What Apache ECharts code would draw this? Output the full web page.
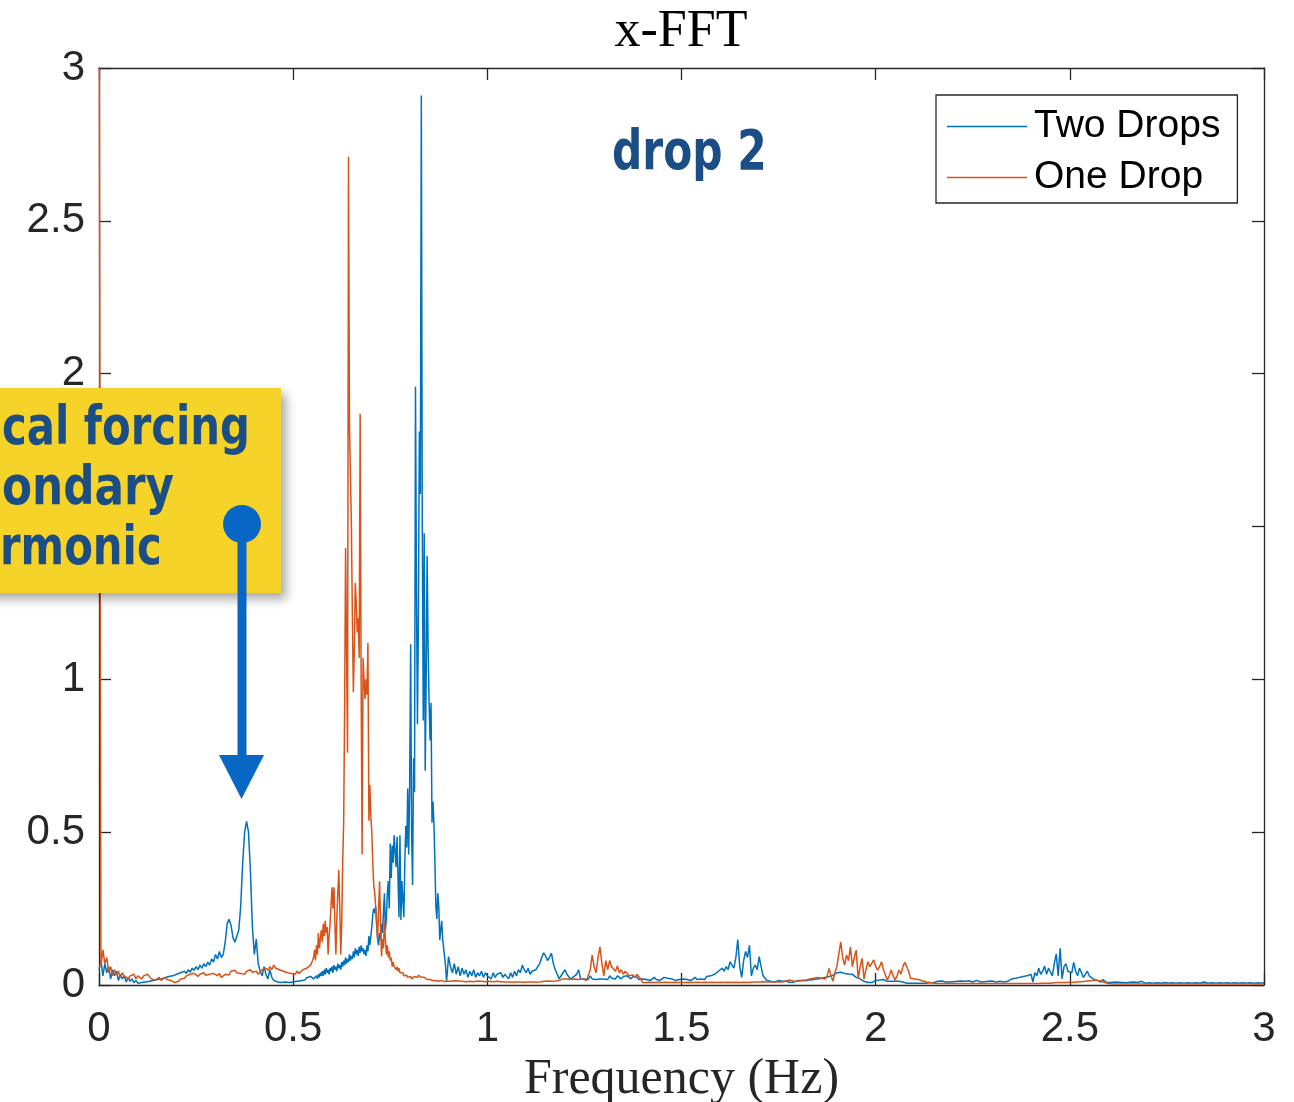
<!DOCTYPE html>
<html>
<head>
<meta charset="utf-8">
<title>x-FFT</title>
<script src="https://cdn.jsdelivr.net/npm/echarts@6/dist/echarts.min.js"></script>
<style>
  html, body { margin: 0; padding: 0; background: #ffffff; }
  #chart { width: 1294px; height: 1102px; }
</style>
</head>
<body>
<div id="chart"></div>
<script>
// Spectrum amplitudes are stored in three frequency bands per series:
//   low band  : 0.000 .. 0.550 Hz, step 0.005 Hz
//   peak band : 0.5525 .. 0.900 Hz, step 0.0025 Hz (finer around the resonances)
//   high band : 0.905 .. 3.000 Hz, step 0.005 Hz
const LOW_START = 0.0,    LOW_STEP = 0.005;
const PEAK_START = 0.5525, PEAK_STEP = 0.0025;
const HIGH_START = 0.905, HIGH_STEP = 0.005;

const seriesNames = ['Two Drops', 'One Drop'];
const xTicks = [0, 0.5, 1, 1.5, 2, 2.5, 3];
const yTicks = [0, 0.5, 1, 1.5, 2, 2.5, 3];

// ---- Two Drops ----
const twoDropsLow = [
  .05,.08,.03,.07,.04,.06,.02,.05,.03,.045,
  .015,.035,.02,.03,.01,.025,.012,.02,.008,.015,
  .006,.012,.008,.005,.01,.006,.012,.008,.015,.01,
  .018,.012,.02,.015,.024,.018,.028,.022,.03,.025,
  .035,.03,.04,.034,.045,.038,.05,.042,.055,.048,
  .06,.05,.065,.055,.07,.06,.075,.065,.085,.075,
  .1,.085,.11,.09,.1,.14,.2,.215,.195,.155,
  .14,.145,.18,.26,.4,.5,.535,.5,.37,.19,
  .1,.15,.07,.045,.03,.06,.035,.02,.05,.025,
  .015,.02,.01,.015,.008,.012,.01,.014,.008,.012,
  .01,.015,.012,.018,.014,.02,.016,.024,.02,.028,
  .025
];
const twoDropsPeak = [
  .02,.025,.015,.03,.02,.035,.025,.04,.03,.045,
  .03,.05,.035,.055,.04,.05,.035,.055,.045,.06,
  .04,.065,.05,.06,.045,.07,.055,.065,.05,.075,
  .06,.08,.065,.09,.07,.085,.075,.1,.08,.095,
  .085,.11,.09,.12,.1,.115,.095,.125,.105,.13,
  .11,.12,.1,.115,.095,.13,.11,.16,.13,.16,
  .19,.23,.25,.235,.257,.2,.15,.13,.17,.15,
  .2,.17,.24,.3,.18,.22,.3,.34,.25,.463,
  .35,.456,.4,.49,.496,.386,.485,.35,.222,.49,
  .213,.34,.28,.222,.4,.52,.45,.643,.427,.65,
  1.115,.5,.327,.742,.631,1.957,1.3,.853,1.2,1.811,
  1.606,2.91,1.5,.865,1.478,.701,1.0,1.404,1.1,.929,
  .8,.923,.531,.6,.526,.4,.256,.216,.3,.257,
  .147,.18,.21,.15,.12,.093,.06,.012,.05,.093
];
const twoDropsHigh = [
  .06,.04,.07,.035,.06,.03,.055,.035,.05,.025,
  .045,.03,.05,.025,.04,.03,.045,.025,.04,.03,
  .035,.02,.04,.025,.035,.03,.04,.025,.035,.03,
  .02,.04,.025,.045,.03,.05,.04,.065,.05,.04,
  .055,.035,.045,.04,.05,.045,.07,.09,.105,.095,
  .08,.09,.104,.07,.05,.035,.02,.025,.04,.05,
  .035,.03,.018,.025,.03,.035,.05,.02,.015,.02,
  .025,.018,.03,.02,.025,.018,.022,.02,.025,.02,
  .025,.018,.03,.022,.028,.02,.03,.025,.02,.028,
  .022,.03,.025,.02,.028,.022,.026,.018,.024,.02,
  .026,.018,.022,.015,.02,.025,.018,.022,.015,.02,
  .025,.03,.022,.028,.02,.018,.015,.02,.018,.015,
  .02,.025,.018,.022,.015,.02,.025,.018,.022,.02,
  .025,.018,.028,.022,.03,.025,.035,.03,.045,.04,
  .055,.045,.06,.05,.076,.065,.055,.09,.149,.06,
  .025,.08,.11,.09,.13,.03,.055,.065,.05,.093,
  .06,.03,.025,.015,.02,.012,.015,.01,.012,.015,
  .01,.012,.008,.012,.01,.008,.012,.01,.012,.015,
  .012,.015,.01,.014,.012,.016,.012,.018,.015,.02,
  .018,.022,.02,.025,.022,.028,.025,.032,.035,.04,
  .045,.042,.04,.038,.04,.036,.04,.035,.03,.025,
  .02,.02,.015,.012,.01,.008,.01,.008,.012,.015,
  .012,.016,.014,.018,.014,.012,.01,.012,.01,.012,
  .01,.012,.014,.01,.008,.006,.008,.006,.007,.006,
  .008,.006,.007,.006,.008,.006,.008,.007,.006,.008,
  .01,.012,.01,.013,.011,.01,.012,.01,.014,.011,
  .01,.012,.01,.013,.011,.012,.01,.014,.011,.01,
  .012,.015,.012,.01,.013,.011,.014,.012,.015,.013,
  .012,.01,.014,.012,.015,.01,.016,.012,.018,.02,
  .015,.022,.018,.025,.02,.028,.022,.03,.025,.035,
  .01,.04,.03,.055,.035,.045,.062,.035,.055,.06,
  .03,.07,.102,.03,.12,.02,.06,.07,.045,.05,
  .04,.074,.045,.03,.055,.04,.025,.035,.045,.03,
  .025,.02,.022,.015,.012,.01,.018,.012,.008,.01,
  .008,.006,.01,.007,.009,.006,.008,.011,.007,.006,
  .009,.007,.01,.006,.008,.007,.012,.008,.006,.009,
  .007,.01,.006,.008,.007,.009,.006,.011,.008,.007,
  .006,.009,.007,.008,.006,.01,.007,.009,.006,.008,
  .007,.011,.006,.008,.007,.009,.006,.008,.01,.007,
  .006,.009,.007,.008,.006,.01,.007,.008,.006,.009,
  .007,.008,.006,.01,.007,.009,.006,.008,.007,.009,
  .006,.008,.007,.01,.006,.008,.007,.009,.006,.008
];

// ---- One Drop ----
const oneDropLow = [
  3.6,.06,.115,.07,.09,.04,.06,.03,.05,.035,
  .045,.025,.04,.03,.035,.02,.03,.025,.035,.02,
  .03,.025,.02,.03,.025,.035,.03,.02,.025,.015,
  .02,.025,.015,.02,.025,.018,.022,.015,.01,.008,
  .004,.012,.02,.025,.022,.03,.028,.035,.03,.038,
  .035,.028,.035,.03,.04,.032,.028,.035,.03,.038,
  .032,.03,.038,.025,.03,.035,.04,.033,.045,.04,
  .048,.04,.045,.038,.042,.035,.045,.04,.05,.042,
  .038,.045,.035,.04,.05,.045,.055,.048,.06,.05,
  .065,.055,.06,.05,.055,.045,.05,.04,.045,.038,
  .042,.035,.045,.038,.042,.05,.045,.055,.05,.065,
  .08
];
const oneDropPeak = [
  .09,.115,.08,.13,.1,.17,.12,.15,.18,.14,
  .2,.16,.21,.17,.19,.1,.16,.2,.26,.32,
  .25,.32,.2,.1,.22,.3,.376,.25,.1,.2,
  .4,.53,.9,1.43,1.43,.76,2.71,1.83,1.83,1.5,
  1.2,.958,1.1,1.316,1.25,1.153,1.2,1.07,1.869,1.0,
  .427,1.07,1.0,.935,1.0,.95,1.119,.537,.654,.55,
  .502,.4,.327,.3,.256,.2,.15,.25,.339,.2,
  .093,.15,.12,.21,.15,.1,.13,.09,.11,.08,
  .09,.06,.075,.06,.065,.05,.06,.045,.055,.04,
  .045,.035,.04,.03,.035,.028,.032,.025,.03,.022,
  .028,.02,.025,.02,.028,.022,.03,.025,.032,.028,
  .03,.025,.028,.022,.025,.02,.022,.018,.02,.016,
  .018,.015,.017,.014,.016,.013,.015,.012,.014,.012,
  .016,.013,.015,.012,.014,.011,.013,.01,.012,.01
];
const oneDropHigh = [
  .012,.01,.014,.011,.013,.01,.012,.009,.011,.01,
  .012,.009,.011,.01,.013,.01,.012,.009,.011,.01,
  .012,.01,.011,.009,.012,.01,.011,.009,.01,.012,
  .01,.012,.009,.011,.01,.012,.01,.011,.009,.011,
  .01,.012,.01,.011,.009,.012,.01,.011,.012,.01,
  .013,.011,.012,.01,.013,.012,.015,.018,.02,.022,
  .02,.025,.018,.022,.02,.025,.018,.022,.02,.025,
  .015,.018,.05,.098,.06,.04,.09,.125,.07,.03,
  .08,.05,.08,.06,.06,.045,.062,.04,.05,.035,
  .045,.038,.03,.035,.033,.025,.035,.038,.02,.008,
  .006,.008,.007,.009,.006,.008,.007,.009,.006,.008,
  .007,.009,.006,.008,.007,.009,.006,.008,.007,.008,
  .006,.008,.007,.009,.006,.008,.007,.009,.006,.008,
  .007,.009,.006,.008,.007,.009,.006,.008,.007,.009,
  .006,.008,.007,.009,.006,.008,.007,.009,.006,.008,
  .007,.009,.006,.008,.007,.009,.008,.01,.008,.01,
  .009,.011,.009,.01,.012,.01,.012,.01,.013,.011,
  .012,.01,.012,.014,.012,.016,.014,.012,.01,.012,
  .012,.015,.013,.016,.014,.02,.016,.022,.018,.025,
  .027,.022,.028,.02,.03,.054,.03,.012,.04,.06,
  .1,.141,.09,.065,.098,.08,.125,.06,.09,.114,
  .02,.06,.087,.02,.05,.076,.06,.054,.082,.06,
  .049,.06,.076,.05,.054,.016,.03,.049,.03,.016,
  .03,.049,.035,.06,.074,.06,.044,.022,.018,.02,
  .016,.018,.015,.014,.012,.01,.009,.008,.007,.006,
  .005,.005,.004,.005,.004,.005,.004,.005,.004,.005,
  .004,.005,.004,.005,.004,.005,.004,.005,.004,.005,
  .004,.005,.004,.005,.004,.005,.004,.005,.004,.005,
  .004,.005,.004,.005,.004,.005,.004,.005,.004,.005,
  .004,.005,.004,.005,.004,.005,.004,.005,.004,.005,
  .004,.005,.004,.005,.005,.006,.005,.006,.005,.006,
  .006,.007,.006,.008,.007,.008,.009,.008,.01,.009,
  .01,.009,.011,.01,.012,.011,.013,.012,.015,.014,
  .016,.015,.017,.016,.015,.013,.01,.008,.006,.005,
  .004,.003,.004,.003,.004,.003,.004,.003,.004,.003,
  .004,.003,.004,.003,.004,.003,.004,.003,.004,.003,
  .004,.003,.004,.003,.004,.003,.004,.003,.004,.003,
  .004,.003,.004,.003,.004,.003,.004,.003,.004,.003,
  .004,.003,.004,.003,.004,.003,.004,.003,.004,.003,
  .004,.003,.004,.003,.004,.003,.004,.003,.004,.003,
  .004,.003,.004,.003,.004,.003,.004,.003,.004,.003,
  .004,.003,.004,.003,.004,.003,.004,.003,.004,.003
];

// Pair each amplitude with its frequency bin.
function band(start, step, values) {
  return values.map((v, i) => [Math.round((start + i * step) * 10000) / 10000, v]);
}
function spectrum(low, peak, high) {
  return band(LOW_START, LOW_STEP, low)
    .concat(band(PEAK_START, PEAK_STEP, peak))
    .concat(band(HIGH_START, HIGH_STEP, high));
}

const twoDrops = spectrum(twoDropsLow, twoDropsPeak, twoDropsHigh);
const oneDrop = spectrum(oneDropLow, oneDropPeak, oneDropHigh);

const AXIS_COLOR = '#262626';
const BLUE = '#0072BD';
const ORANGE = '#D95319';
const NOTE_BLUE = '#1c4e86';
const PIN_BLUE = '#0866c4';
const NOTE_FONT = 'bold 54px "DejaVu Sans Condensed", "DejaVu Sans", sans-serif';

function frameAxis(position, showLabels, ticks) {
  const ax = {
    type: 'value',
    position: position,
    min: ticks[0],
    max: ticks[ticks.length - 1],
    interval: ticks[1] - ticks[0],
    axisLine: { show: true, onZero: false, lineStyle: { color: AXIS_COLOR, width: 1.3 } },
    axisTick: { show: true, inside: true, length: 12, lineStyle: { color: AXIS_COLOR, width: 1.3 } },
    splitLine: { show: false },
    axisLabel: { show: false }
  };
  if (showLabels) {
    ax.axisLabel = {
      show: true,
      color: AXIS_COLOR,
      fontSize: 42,
      fontFamily: '"Liberation Sans", Arial, sans-serif',
      margin: position === 'left' ? 14 : 23,
      padding: position === 'left' ? [11, 0, 0, 0] : 0
    };
  }
  return ax;
}

const xBottom = frameAxis('bottom', true, xTicks);
xBottom.name = 'Frequency (Hz)';
xBottom.nameLocation = 'middle';
xBottom.nameGap = 66;
xBottom.nameTextStyle = { fontFamily: '"Liberation Serif", "Times New Roman", serif', fontSize: 50, color: AXIS_COLOR };

const chart = echarts.init(document.getElementById('chart'), null, { renderer: 'canvas' });

chart.setOption({
  animation: false,
  backgroundColor: '#ffffff',
  grid: { left: 99, right: 30, top: 68, bottom: 117, containLabel: false, outerBoundsMode: 'none' },
  xAxis: [xBottom, frameAxis('top', false, xTicks)],
  yAxis: [frameAxis('left', true, yTicks), frameAxis('right', false, yTicks)],
  legend: {
    data: seriesNames,
    orient: 'vertical',
    left: 936,
    top: 95,
    padding: [12, 17, 6, 11],
    itemGap: 12,
    itemWidth: 80,
    itemHeight: 1.5,
    icon: 'rect',
    borderColor: AXIS_COLOR,
    borderWidth: 1.3,
    backgroundColor: '#ffffff',
    textStyle: { fontSize: 39, color: '#000000', fontFamily: '"Liberation Sans", Arial, sans-serif', padding: [0, 0, 0, 2] }
  },
  series: [
    {
      name: seriesNames[0], type: 'line', data: twoDrops,
      xAxisIndex: 0, yAxisIndex: 0,
      symbol: 'none', showSymbol: false, clip: true,
      lineStyle: { color: BLUE, width: 1.5 }, itemStyle: { color: BLUE }, z: 3
    },
    {
      name: seriesNames[1], type: 'line', data: oneDrop,
      xAxisIndex: 0, yAxisIndex: 0,
      symbol: 'none', showSymbol: false, clip: true,
      lineStyle: { color: ORANGE, width: 1.5 }, itemStyle: { color: ORANGE }, z: 4
    }
  ],
  graphic: [
    // plot title
    {
      type: 'text', x: 681, y: 32, z: 50,
      style: { text: 'x-FFT', font: '52px "Liberation Serif", "Times New Roman", serif', fill: '#000000', textAlign: 'center', textVerticalAlign: 'middle' }
    },
    // handwritten panel tag
    {
      type: 'text', x: 612, y: 154, z: 50, scaleX: 0.84,
      style: { text: 'drop 2', font: 'bold 56px "DejaVu Sans Condensed", "DejaVu Sans", sans-serif', fill: NOTE_BLUE, textAlign: 'left', textVerticalAlign: 'middle' }
    },
    // yellow sticky note with shadow
    {
      type: 'rect', z: 60,
      shape: { x: -20, y: 388, width: 301, height: 205 },
      style: { fill: '#f5d328', shadowBlur: 10, shadowOffsetX: 5, shadowOffsetY: 6, shadowColor: 'rgba(0,0,0,0.35)' }
    },
    {
      type: 'text', x: 2, y: 430, z: 61, scaleX: 0.86,
      style: { text: 'cal forcing', font: NOTE_FONT, fill: NOTE_BLUE, textAlign: 'left', textVerticalAlign: 'middle' }
    },
    {
      type: 'text', x: 2, y: 490, z: 61, scaleX: 0.9,
      style: { text: 'ondary', font: NOTE_FONT, fill: NOTE_BLUE, textAlign: 'left', textVerticalAlign: 'middle' }
    },
    {
      type: 'text', x: 0, y: 550, z: 61, scaleX: 0.86,
      style: { text: 'rmonic', font: NOTE_FONT, fill: NOTE_BLUE, textAlign: 'left', textVerticalAlign: 'middle' }
    },
    // pin and arrow pointing at the 0.38 Hz peak
    {
      type: 'line', z: 62,
      shape: { x1: 242, y1: 524, x2: 242, y2: 760 },
      style: { stroke: PIN_BLUE, lineWidth: 9 }
    },
    {
      type: 'circle', z: 63,
      shape: { cx: 242, cy: 524, r: 19 },
      style: { fill: PIN_BLUE }
    },
    {
      type: 'polygon', z: 63,
      shape: { points: [[219, 755], [264, 755], [241.5, 799]] },
      style: { fill: PIN_BLUE }
    }
  ]
});
</script>
</body>
</html>
